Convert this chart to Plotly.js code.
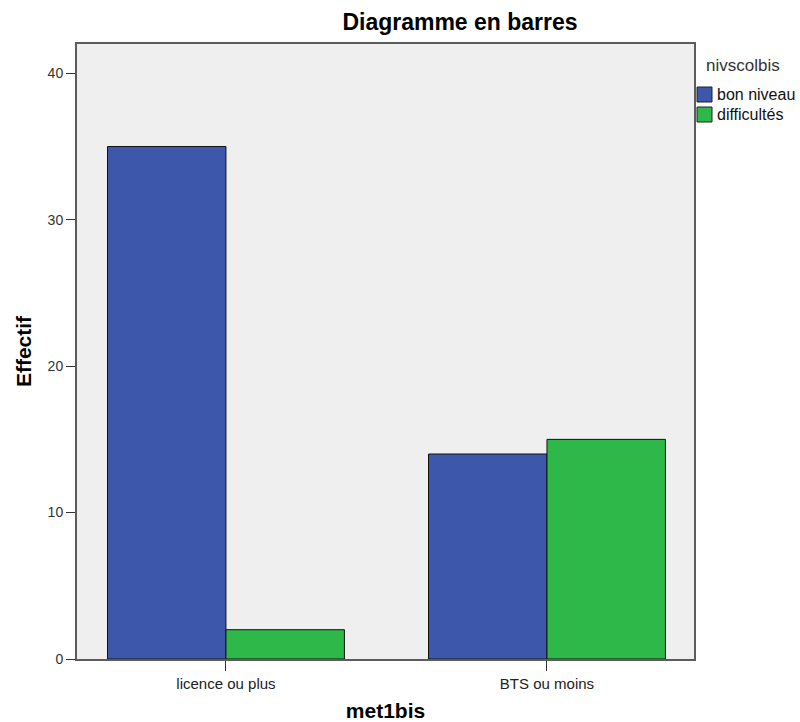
<!DOCTYPE html>
<html>
<head>
<meta charset="utf-8">
<script src="https://cdn.plot.ly/plotly-3.0.1.min.js"></script>
<style>html,body{margin:0;padding:0;background:#fff;}#chart{width:800px;height:722px;}</style>
</head>
<body>
<div id="chart"></div>
<script>
const categories = ["licence ou plus", "BTS ou moins"];
const seriesNames = ["bon niveau", "difficultés"];
const bonNiveau = [35, 14];
const difficultes = [2, 15];
const yTicks = [0, 10, 20, 30, 40];
const colors = ["#3d57aa", "#2eb84a"];
const legendTitle = "nivscolbis";

// plot area in pixels
const L = 77, R = 694, T = 44, B = 659;
const px2x = p => (p - L) / (R - L);
const px2y = p => (B - p) / (B - T);

const traces = [bonNiveau, difficultes].map((vals, i) => ({
  type: "bar",
  name: seriesNames[i],
  x: categories,
  y: vals,
  marker: {color: colors[i], line: {color: "#111", width: 1}},
  showlegend: false
}));

// custom legend (swatches + labels)
const shapes = [];
const annotations = [{
  text: legendTitle, xref: "paper", yref: "paper",
  x: px2x(704), y: px2y(65), xanchor: "left", yanchor: "middle",
  showarrow: false, font: {size: 17, color: "#333"}
}];
seriesNames.forEach((n, i) => {
  const top = 87 + i * 20;
  shapes.push({type: "rect", xref: "paper", yref: "paper",
    x0: px2x(697), x1: px2x(712), y0: px2y(top), y1: px2y(top + 15),
    fillcolor: colors[i], line: {color: "#222", width: 1}});
  annotations.push({text: n, xref: "paper", yref: "paper",
    x: px2x(715), y: px2y(top + 7.5), xanchor: "left", yanchor: "middle",
    showarrow: false, font: {size: 16, color: "#111"}});
});

const layout = {
  width: 800, height: 722,
  margin: {l: L, r: 800 - R, t: T, b: 722 - B, pad: 0, autoexpand: false},
  paper_bgcolor: "#ffffff",
  plot_bgcolor: "#efefef",
  font: {family: "Liberation Sans, Arial, sans-serif", color: "#222"},
  title: {text: "<b>Diagramme en barres</b>", font: {size: 23, color: "#000"},
          xref: "paper", x: px2x(460), xanchor: "center",
          yref: "container", y: 1 - 22 / 722, yanchor: "middle"},
  barmode: "group",
  bargap: 0.262,
  bargroupgap: 0,
  xaxis: {
    type: "category",
    range: [-0.464, 1.458],
    automargin: false,
    showline: true, mirror: true, linecolor: "#5c5c5c", linewidth: 2,
    ticks: "outside", ticklen: 10, tickcolor: "#333", tickwidth: 1,
    tickfont: {size: 15, color: "#222"},
    showgrid: false, zeroline: false,
    title: {text: "<b>met1bis</b>", font: {size: 21, color: "#000"}, standoff: 15}
  },
  yaxis: {
    range: [0, 42.0],
    tickvals: yTicks,
    automargin: false,
    showline: true, mirror: true, linecolor: "#5c5c5c", linewidth: 2,
    ticks: "outside", ticklen: 9, tickcolor: "#333", tickwidth: 1,
    tickfont: {size: 14, color: "#333"},
    showgrid: false, zeroline: false,
    title: {text: "<b>Effectif</b>", font: {size: 21, color: "#000"}, standoff: 10}
  },
  shapes: shapes,
  annotations: annotations,
  showlegend: false
};

Plotly.newPlot("chart", traces, layout, {displayModeBar: false, staticPlot: true});
</script>
</body>
</html>
